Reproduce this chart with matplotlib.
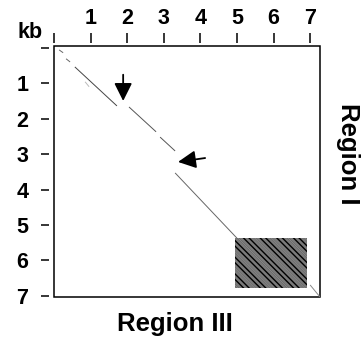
import matplotlib
matplotlib.use("Agg")
import matplotlib.pyplot as plt
from matplotlib.patches import Rectangle

plt.rcParams['font.family'] = ['Liberation Sans', 'DejaVu Sans']
plt.rcParams['font.weight'] = 'bold'
plt.rcParams['hatch.linewidth'] = 1.0

# sequence lengths (kb)
len_region3 = 7.27   # x axis
len_region1 = 7.03   # y axis

# matching segments of the dot plot (x in Region III, y in Region I), kb
seg_x0 = [0.14, 0.33, 0.57, 0.85, 2.05, 2.90, 3.31, 7.00]
seg_y0 = [0.06, 0.31, 0.54, 0.96, 1.67, 2.52, 3.53, 6.69]
seg_x1 = [0.25, 0.44, 1.72, 0.96, 2.79, 3.31, 5.00, 7.27]
seg_y1 = [0.14, 0.40, 1.64, 1.10, 2.37, 2.91, 5.37, 7.03]
seg_shade = ['#666666', '#666666', '#444444', '#bbbbbb', '#555555', '#555555', '#666666', '#888888']

# repeat block (x0, y0, x1, y1), kb
block = (4.95, 5.37, 6.91, 6.78)

# arrows: tail -> tip, kb
arrow_tail = [(1.89, 0.76), (4.13, 3.11)]
arrow_tip = [(1.89, 1.50), (3.39, 3.22)]

ticks = [0, 1, 2, 3, 4, 5, 6, 7]
tick_labels = ['', '1', '2', '3', '4', '5', '6', '7']

fig = plt.figure(figsize=(3.62, 3.42), dpi=100)
ax = fig.add_axes([54 / 362, 45 / 342, 266 / 362, 251 / 342])

for x0, y0, x1, y1, c in zip(seg_x0, seg_y0, seg_x1, seg_y1, seg_shade):
    ax.plot([x0, x1], [y0, y1], color=c, lw=0.7, solid_capstyle='butt')

bx0, by0, bx1, by1 = block
ax.add_patch(Rectangle((bx0, by0), bx1 - bx0, by1 - by0, facecolor='#7a7a7a',
                       edgecolor='#000000', hatch='\\\\\\\\\\\\', lw=0))
ax.add_patch(Rectangle((bx0, by0), bx1 - bx0, by1 - by0, facecolor='none',
                       edgecolor='#dddddd', hatch='\\\\', lw=0, alpha=0.6))

for tail, tip in zip(arrow_tail, arrow_tip):
    ax.annotate('', xy=tip, xytext=tail,
                arrowprops=dict(arrowstyle='-|>,head_length=0.9,head_width=0.45',
                                mutation_scale=12, color='black', lw=1.3,
                                shrinkA=0, shrinkB=0))

ax.set_xlim(0, len_region3)
ax.set_ylim(len_region1, -0.05)

for s in ax.spines.values():
    s.set_visible(False)
ax.spines['top'].set_position(('outward', 2.2))
ax.spines['left'].set_position(('outward', 3.6))
ax.add_patch(Rectangle((0, 0), 1, 1, transform=ax.transAxes, fill=False,
                       lw=1.1, edgecolor='black', clip_on=False))

ax.xaxis.tick_top()
ax.set_xticks(ticks)
ax.set_xticklabels(tick_labels)
ax.set_yticks(ticks)
ax.set_yticklabels(tick_labels)
ax.tick_params(axis='x', length=7.2, width=1.1, pad=3, labelsize=15.5)
ax.tick_params(axis='y', length=5.8, width=1.1, pad=9, labelsize=15.5)

fig.text(30 / 362, 1 - 33 / 342, 'kb', ha='center', va='center', fontsize=15.5, fontweight='bold')
fig.text(175 / 362, 1 - 324 / 342, 'Region III', ha='center', va='center', fontsize=18.5, fontweight='bold')
fig.text(348 / 362, 1 - 154 / 342, 'Region I', ha='center', va='center', rotation=-90,
         fontsize=18.5, fontweight='bold')

fig.savefig('out.png', dpi=100)
